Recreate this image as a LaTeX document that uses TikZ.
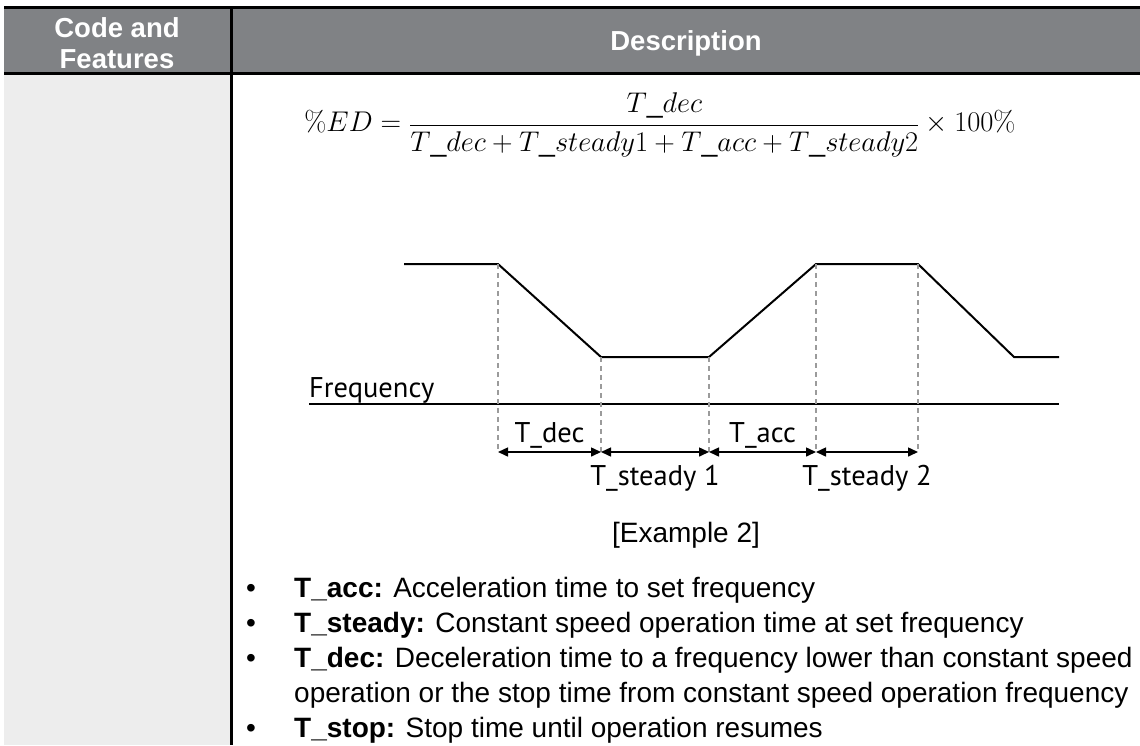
\documentclass[tikz,border=0pt]{standalone}
\usepackage{fix-cm}
\usepackage[no-math]{fontspec}
\setmainfont{Liberation Sans}
\newfontfamily\plotfont{PT Sans}
\usetikzlibrary{arrows.meta}
\definecolor{headgray}{RGB}{128,130,133}
\definecolor{cellgray}{RGB}{237,237,237}
\definecolor{dashgray}{RGB}{155,155,155}

\begin{document}
\begin{tikzpicture}[x=1pt,y=-1pt,
  headtext/.style={text=white,font=\fontsize{27.5}{31}\selectfont\bfseries,anchor=base},
  bodytext/.style={font=\fontsize{28}{34}\selectfont,anchor=base west,inner sep=0pt},
  plottext/.style={font=\plotfont\fontsize{28.5}{31}\selectfont},
  labup/.style={above},
  labdown/.style={below=9pt},
  guide/.style={dashgray,line width=1.3pt,dash pattern=on 5pt off 4pt},
  span/.style={line width=1.5pt,{Triangle[length=10pt,width=9pt]}-{Triangle[length=10pt,width=9pt]}}]
  \useasboundingbox (0,0) rectangle (1140,745);

  % table frame
  \fill[headgray] (4,8) rectangle (1140,73);
  \fill[cellgray] (4,75) rectangle (230,745);
  \draw[line width=3pt] (4,7.5) -- (1140,7.5);
  \draw[line width=3pt] (4,73.5) -- (1140,73.5);
  \draw[line width=2.5pt] (231.5,6) -- (231.5,745);
  \node[headtext] (code) at (117,37) {Code and};
  \node[headtext] (feat) at (117,68) {Features};
  \node[headtext] (desc) at (686,50) {Description};

  % formula
  \node (ed) at (660,125) {\fontsize{28.5}{32}\selectfont
    $\displaystyle \%ED=\frac{T\_dec}{T\_dec+T\_steady1+T\_acc+T\_steady2}\times 100\%$};

  % frequency profile
  \draw[line width=2pt] (404,264) -- (498,264) -- (601,357) -- (709,357)
    -- (816,264) -- (918,264) -- (1014,357) -- (1059,357);
  \draw[line width=2.5pt] (309,404) -- (1059,404);
  \node[plottext,anchor=base west,inner sep=0pt] (freq) at (309,397) {Frequency};

  % time marks
  \foreach \n/\x/\top in {a/498/264,b/601/357,c/709/357,d/816/264,e/918/264} {
    \coordinate (\n) at (\x,452);
    \draw[guide] (\x,\top) -- (\n);
  }
  \foreach \p/\q/\lab/\side in {a/b/T\_dec/labup,b/c/T\_steady 1/labdown,
      c/d/T\_acc/labup,d/e/T\_steady 2/labdown}
    \draw[span] (\p) -- (\q) node[plottext,midway,\side] (l\p) {\lab};

  \node[bodytext,anchor=base] (cap) at (686,542) {[Example 2]};

  % bullet list
  \foreach \y/\key/\txt [count=\i] in {597/T\_acc:/Acceleration time to set frequency,
      632/T\_steady:/Constant speed operation time at set frequency,
      667/T\_dec:/Deceleration time to a frequency lower than constant speed,
      737/T\_stop:/Stop time until operation resumes} {
    \node[bodytext,anchor=base] (dot\i) at (251,\y) {\textbullet};
    \node[bodytext] (item\i) at (294,\y) {\textbf{\key} \txt};
  }
  \node[bodytext] (item3b) at (294,702) {operation or the stop time from constant speed operation frequency};
\end{tikzpicture}
\end{document}
